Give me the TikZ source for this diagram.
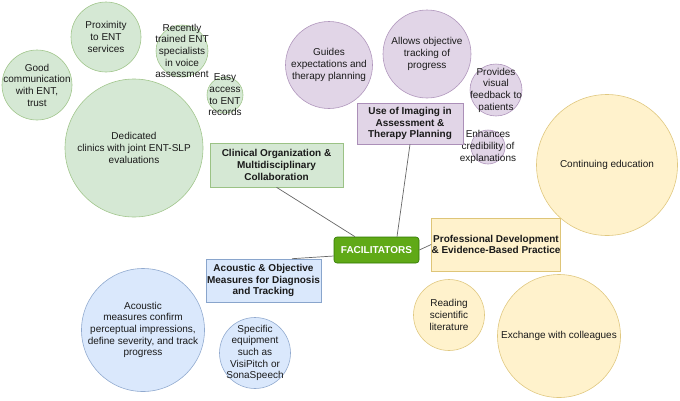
\documentclass[tikz,border=0pt]{standalone}
\usepackage{fontspec}
\setmainfont{Liberation Sans}
\definecolor{gfill}{HTML}{D5E8D4}\definecolor{gline}{HTML}{82B366}
\definecolor{pfill}{HTML}{E1D5E7}\definecolor{pline}{HTML}{9673A6}
\definecolor{yfill}{HTML}{FFF2CC}\definecolor{yline}{HTML}{D6B656}
\definecolor{bfill}{HTML}{DAE8FC}\definecolor{bline}{HTML}{6C8EBF}
\definecolor{ffill}{HTML}{60A917}\definecolor{fline}{HTML}{2D7600}
\definecolor{txt}{HTML}{1A1A1A}
\begin{document}
\begin{tikzpicture}[x=1pt,y=-1pt,
  every node/.style={font=\fontsize{10}{11.7}\selectfont, text=txt},
  bub/.style={circle, draw=#1line!75, fill=#1fill, line width=0.6pt, inner sep=0pt},
  lbl/.style={align=center, inner sep=0pt},
  cat/.style={draw=#1line!80, fill=#1fill, line width=0.6pt, align=center, inner sep=0pt, font=\fontsize{10}{11.7}\selectfont\bfseries},
  link/.style={draw=black!60, line width=0.7pt}]
\useasboundingbox (0,0) rectangle (680,400);
% green
\node[bub=g, minimum size=70pt] (prox) at (106,37) {};
\node[lbl] at (prox) {Proximity\\to ENT\\services};
\node[bub=g, minimum size=52pt] (rec) at (182,51) {};
\node[lbl] at (rec) {Recently\\trained ENT\\specialists\\in voice\\assessment};
\node[bub=g, minimum size=36pt] (easy) at (225,95) {};
\node[lbl] at (easy) {Easy\\access\\to ENT\\records};
\node[bub=g, minimum size=70pt] (good) at (37,85) {};
\node[lbl] at (good) {Good\\communication\\with ENT,\\trust};
\node[bub=g, minimum size=138pt] (ded) at (134,148) {};
\node[lbl] at (ded) {Dedicated\\clinics with joint ENT-SLP\\evaluations};
\node[cat=g, minimum width=133pt, minimum height=44pt] (clin) at (276.5,165) {Clinical Organization \&\\Multidisciplinary\\Collaboration};
% purple
\node[bub=p, minimum size=87pt] (guid) at (329,65) {};
\node[lbl] at (guid) {Guides\\expectations and\\therapy planning};
\node[bub=p, minimum size=88pt] (allow) at (427,54) {};
\node[lbl] at (allow) {Allows objective\\tracking of\\progress};
\node[bub=p, minimum size=52pt] (prov) at (496,90) {};
\node[lbl] at (prov) {Provides\\visual\\feedback to\\patients};
\node[bub=p, minimum size=34pt] (enh) at (488,147) {};
\node[lbl] at (enh) {Enhances\\credibility of\\explanations};
\node[cat=p, minimum width=106pt, minimum height=41pt] (img) at (410,123.5) {Use of Imaging in\\Assessment \&\\Therapy Planning};
% yellow
\node[bub=y, minimum size=141pt] (cont) at (607,165) {};
\node[lbl] at (cont) {Continuing education};
\node[cat=y, minimum width=126pt, minimum height=53pt] (prof) at (496,244.5) {Professional Development\\\& Evidence-Based Practice};
\node[bub=y, minimum size=71pt] (read) at (449,315) {};
\node[lbl] at (read) {Reading\\scientific\\literature};
\node[bub=y, minimum size=123pt] (exch) at (559,336) {};
\node[lbl] at (exch) {Exchange with colleagues};
% blue
\node[cat=b, minimum width=115pt, minimum height=43pt] (acou) at (263.5,280.5) {Acoustic \& Objective\\Measures for Diagnosis\\and Tracking};
\node[bub=b, minimum size=123pt] (meas) at (143,330) {};
\node[lbl] at (meas) {Acoustic\\measures confirm\\perceptual impressions,\\define severity, and track\\progress};
\node[bub=b, minimum size=71pt] (equip) at (255,353) {};
\node[lbl] at (equip) {Specific\\equipment\\such as\\VisiPitch or\\SonaSpeech};
% center
\node[draw=fline, fill=ffill, rounded corners=3pt, line width=0.6pt, minimum width=85pt, minimum height=26pt, inner sep=0pt, text=white, font=\fontsize{10}{12}\selectfont\bfseries] (fac) at (376.5,250) {FACILITATORS};
% links
\draw[link] (clin.south) -- ([xshift=-21.5pt]fac.north);
\draw[link] (img.south) -- ([xshift=20.5pt]fac.north);
\draw[link] (fac.east) -- (prof.west);
\draw[link] ([yshift=-6pt]fac.west) -- ([xshift=28.5pt]acou.north);
\end{tikzpicture}
\end{document}
